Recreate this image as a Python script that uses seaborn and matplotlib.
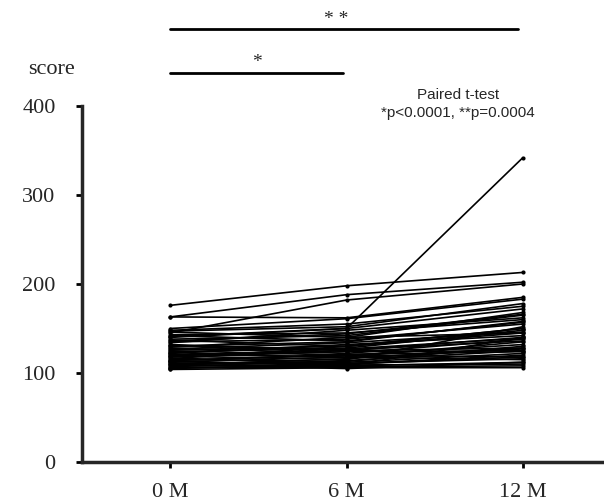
import pandas as pd
import matplotlib.pyplot as plt
import seaborn as sns

# score per subject at each visit
months = ["0 M", "6 M", "12 M"]
m0 = [176, 163, 145, 163, 140, 150, 148, 146, 143, 141, 138, 137, 135, 134, 132, 130, 129, 128, 126, 125,
      124, 122, 121, 120, 119, 118, 117, 116, 115, 114, 113, 112, 111, 110, 109, 108, 107, 106, 105, 104,
      147, 142, 136, 131, 127, 123, 119, 114, 110, 106]
m6 = [198, 188, 182, 162, 150, 161, 155, 140, 145, 150, 142, 130, 138, 148, 125, 135, 140, 122, 130, 120,
      128, 132, 118, 125, 115, 124, 110, 130, 113, 120, 108, 118, 112, 105, 116, 109, 114, 107, 110, 106,
      152, 136, 144, 126, 134, 117, 127, 121, 111, 108]
m12 = [213, 202, 200, 185, 342, 183, 175, 168, 160, 172, 165, 150, 155, 162, 140, 158, 145, 138, 150, 132,
       148, 142, 135, 128, 152, 125, 120, 145, 130, 118, 140, 115, 122, 112, 128, 110, 125, 108, 118, 106,
       178, 157, 166, 136, 146, 127, 139, 124, 116, 112]
yticks = [0, 100, 200, 300, 400]

# long format for seaborn
rows = []
for i, vals in enumerate(zip(m0, m6, m12)):
    for t, v in enumerate(vals):
        rows.append({"subject": i, "time": t, "score": v})
df = pd.DataFrame(rows)

sns.set_style("ticks")
plt.rcParams['font.family'] = ['Liberation Serif', 'DejaVu Serif']

fig = plt.figure(figsize=(6.04, 5.04), dpi=100)
ax = fig.add_axes([82 / 604, 42 / 504, 1 - 82 / 604, (462 - 106) / 504])

sns.lineplot(data=df, x="time", y="score", units="subject", estimator=None,
             color="black", linewidth=1.2, marker="o", markersize=3,
             markeredgewidth=0, ax=ax, legend=False)

ax.set_xlim(-0.5, 2.46)
ax.set_ylim(0, 400)
ax.set_xticks([0, 1, 2])
ax.set_xticklabels(months)
ax.set_yticks(yticks)
ax.set_xlabel("")
ax.set_ylabel("")
ax.tick_params(labelsize=16, width=2, length=4, color="black")
ax.tick_params(axis="x", pad=11)
ax.tick_params(axis="y", pad=15)
for s in ["left", "bottom"]:
    ax.spines[s].set_linewidth(2.5)
sns.despine(ax=ax)

fig.text(28 / 604, 1 - 69 / 504, "score", fontsize=16, va="center", ha="left")

# significance bars
ax.plot([0, 1.97], [486, 486], color="black", lw=2, clip_on=False)
ax.text(0.94, 488, "* *", ha="center", va="bottom", fontsize=14)
ax.plot([0, 0.98], [437, 437], color="black", lw=2, clip_on=False)
ax.text(0.49, 439, "*", ha="center", va="bottom", fontsize=14)

ax.text(1.63, 412, "Paired t-test", ha="center", va="center", fontsize=11,
        family=["Liberation Sans", "DejaVu Sans"])
ax.text(1.63, 392, "*p<0.0001, **p=0.0004", ha="center", va="center", fontsize=11,
        family=["Liberation Sans", "DejaVu Sans"])

plt.savefig("out.png", dpi=100)
